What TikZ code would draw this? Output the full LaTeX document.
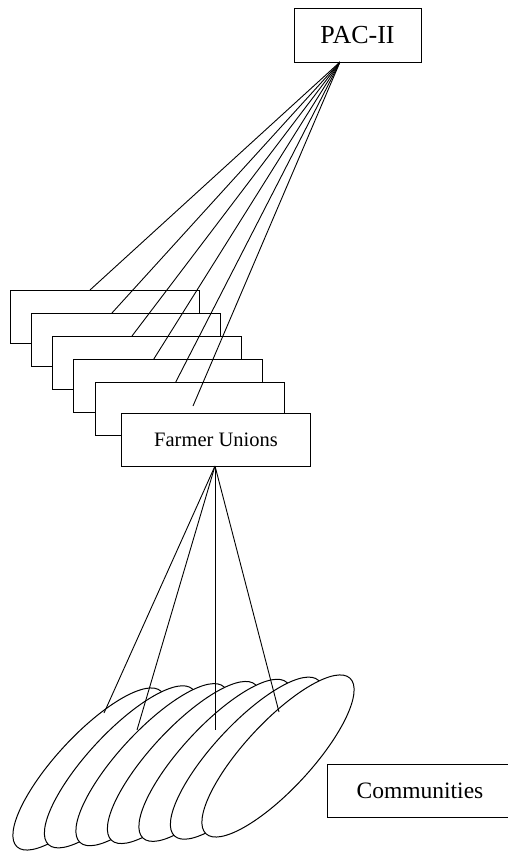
\documentclass[tikz,border=0pt]{standalone}
\usepackage{fontspec}
\setmainfont{Liberation Serif}
\usetikzlibrary{shapes.geometric}
\tikzset{
  box/.style={draw=black, line width=1pt, fill=white, rectangle, inner sep=0pt, outer sep=0pt},
  fubox/.style={box, minimum width=189pt, minimum height=53pt},
  comm/.style={draw=black, line width=1pt, fill=white, ellipse, rotate=47.2, inner sep=0pt, outer sep=0pt, minimum width=212pt, minimum height=67pt},
  link/.style={draw=black, line width=0.9pt}
}
\begin{document}
\begin{tikzpicture}[x=1pt,y=-1pt]
\useasboundingbox (0,0) rectangle (508,852);
\fill[white] (0,0) rectangle (508,852);
\clip (0,0) rectangle (508,852);
% PAC-II
\node[box, minimum width=127pt, minimum height=54pt, font=\fontsize{26}{28}\selectfont] (pac) at (357.5,35) {PAC-II};
\coordinate (pa) at (340,62);
% stacked farmer union boxes
\node[fubox] (r1) at (104.5,316.5) {};
\node[fubox] (r2) at (126,340) {};
\node[fubox] (r3) at (146.5,362.5) {};
\node[fubox] (r4) at (168,386) {};
\node[fubox] (r5) at (190,409) {};
\node[fubox, font=\fontsize{20.5}{22}\selectfont] (r6) at (216,439.5) {Farmer Unions};
\coordinate (e6) at (193,406);
\foreach \r in {r1,r2,r3,r4,r5}
  \draw[link] (pa) -- ([xshift=80pt]\r.north west);
\draw[link] (pa) -- (e6);
% communities ellipses
\foreach \k/\n in {0/c0,1/c1,2/c2,3/c3,4/c4,5/c5,6/c6}
  \node[comm] (\n) at ({89+31.5*\k},{769-2.17*\k}) {};
\coordinate (fa) at (215,466);
\coordinate (f1) at (104,713);
\coordinate (f2) at (137,730);
\coordinate (f3) at (215,730);
\coordinate (f4) at (279,712);
\foreach \f in {f1,f2,f3,f4}
  \draw[link] (fa) -- (\f);
% Communities label
\node[box, minimum width=186pt, minimum height=53pt, font=\fontsize{23.5}{25}\selectfont] (cl) at (420,790.5) {Communities};
\end{tikzpicture}
\end{document}
